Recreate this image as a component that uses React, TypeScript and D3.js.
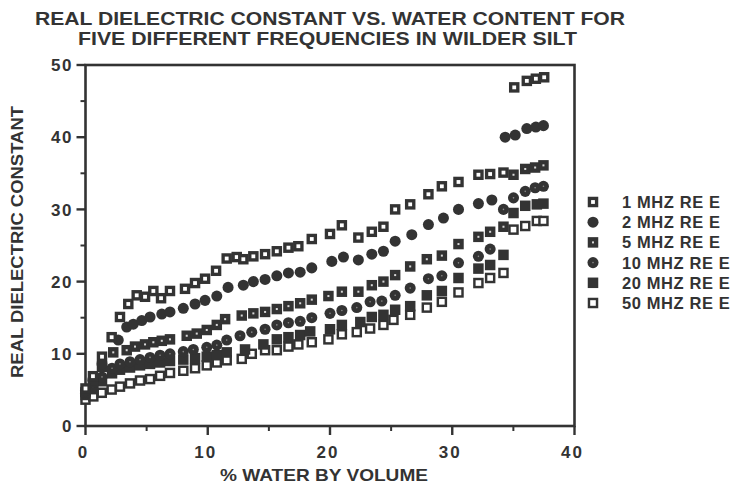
import React from "react";
import * as d3 from "d3";

// Real dielectric constant of Wilder silt vs. volumetric water content,
// measured at several frequencies. Each entry is [% water by volume, real ε].

const TITLE_LINES = [
  "REAL DIELECTRIC CONSTANT VS. WATER CONTENT FOR",
  "FIVE DIFFERENT FREQUENCIES IN WILDER SILT",
];
const X_TITLE = "% WATER BY VOLUME";
const Y_TITLE = "REAL DIELECTRIC CONSTANT";

const X_TICKS = [0, 10, 20, 30, 40];
const X_MINOR = [5, 15, 25, 35];
const Y_TICKS = [0, 10, 20, 30, 40, 50];
const Y_MINOR = [5, 15, 25, 35, 45];

const SERIES_LABELS = [
  "1 MHZ RE E",
  "2 MHZ RE E",
  "5 MHZ RE E",
  "10 MHZ RE E",
  "20 MHZ RE E",
  "50 MHZ RE E",
];

const MHZ_1: [number, number][] = [
  [0.0, 5.2], [0.61, 6.9], [1.35, 9.6], [2.14, 12.3], [2.82, 15.1], [3.5, 16.9],
  [4.19, 18.1], [4.87, 17.9], [5.55, 18.7], [6.18, 17.7], [6.91, 18.7], [8.14, 19.0],
  [8.96, 19.8], [9.78, 20.4], [10.68, 21.5], [11.55, 23.2], [12.37, 23.4], [12.91, 23.1],
  [13.73, 23.5], [14.69, 23.8], [15.65, 24.2], [16.6, 24.7], [17.41, 24.9], [18.51, 25.9],
  [20.0, 26.6], [20.97, 27.8], [22.32, 26.1], [23.42, 26.9], [24.37, 27.6], [25.33, 30.0],
  [26.56, 30.7], [28.05, 32.1], [29.15, 33.2], [30.51, 33.8], [32.14, 34.8], [33.1, 34.9],
  [34.19, 35.1], [35.07, 46.9], [36.1, 47.8], [36.84, 48.1], [37.52, 48.3],
];

const MHZ_2: [number, number][] = [
  [0.0, 4.9], [0.61, 6.3], [1.35, 8.6], [2.68, 11.9], [3.37, 13.7], [3.91, 14.1],
  [4.6, 14.6], [5.28, 15.1], [6.24, 15.5], [6.91, 15.8], [8.0, 16.3], [8.96, 16.9],
  [9.78, 17.4], [10.74, 18.0], [11.66, 19.2], [12.91, 19.5], [13.73, 20.0], [14.69, 20.3],
  [15.65, 20.8], [16.6, 21.2], [17.56, 21.3], [18.51, 21.9], [20.15, 22.8], [21.1, 23.4],
  [22.32, 23.0], [23.42, 23.8], [24.37, 24.2], [25.33, 25.6], [26.69, 26.5], [28.05, 27.9],
  [29.28, 28.8], [30.51, 30.0], [32.14, 30.8], [33.24, 31.3], [34.33, 40.0], [35.15, 40.3],
  [36.1, 41.2], [36.84, 41.4], [37.46, 41.6],
];

const MHZ_5: [number, number][] = [
  [0.0, 4.7], [0.61, 6.0], [1.35, 8.2], [2.27, 10.2], [3.37, 10.5], [4.05, 11.0],
  [4.87, 11.3], [5.55, 11.6], [6.24, 11.8], [6.91, 12.0], [8.28, 12.5], [9.1, 12.8],
  [9.92, 13.3], [10.74, 14.0], [11.42, 14.8], [12.78, 15.3], [13.73, 15.6], [14.69, 15.8],
  [15.65, 16.2], [16.6, 16.6], [17.56, 17.0], [18.51, 17.5], [19.87, 18.0], [20.97, 18.6],
  [22.32, 18.6], [23.42, 19.5], [24.37, 20.0], [25.33, 20.9], [26.56, 22.1], [27.92, 23.1],
  [29.15, 23.6], [30.51, 25.2], [32.14, 26.2], [33.1, 26.9], [34.19, 27.6], [35.01, 34.8],
  [35.97, 35.6], [36.78, 35.8], [37.46, 36.1],
];

const MHZ_10: [number, number][] = [
  [0.0, 4.5], [0.61, 5.4], [1.35, 6.8], [2.17, 8.0], [2.82, 8.6], [3.64, 8.9],
  [4.46, 9.2], [5.28, 9.5], [6.1, 9.8], [6.91, 10.0], [8.0, 10.3], [8.82, 10.6],
  [9.92, 10.9], [10.74, 11.2], [11.55, 11.9], [12.64, 12.5], [13.6, 13.0], [14.69, 13.4],
  [15.65, 14.0], [16.6, 14.3], [17.56, 14.5], [18.51, 15.0], [20.0, 15.6], [20.97, 16.0],
  [22.19, 16.4], [23.28, 17.2], [24.24, 17.3], [25.33, 18.1], [26.56, 19.1], [28.05, 20.4],
  [29.15, 20.8], [30.51, 22.6], [32.14, 23.5], [33.1, 24.5], [34.19, 30.0], [35.01, 31.6],
  [35.97, 32.5], [36.78, 33.0], [37.46, 33.2],
];

const MHZ_20: [number, number][] = [
  [0.0, 4.3], [0.61, 5.1], [1.35, 6.2], [2.17, 7.3], [2.82, 7.8], [3.64, 8.1],
  [4.46, 8.4], [5.28, 8.6], [6.1, 8.8], [6.91, 9.0], [8.0, 9.2], [8.96, 9.4],
  [9.92, 9.6], [10.74, 9.8], [11.55, 10.2], [13.05, 10.6], [14.55, 11.3], [15.65, 12.0],
  [16.6, 12.3], [17.56, 12.6], [18.38, 13.1], [20.0, 13.4], [20.97, 14.0], [22.48, 14.4],
  [23.42, 15.1], [24.37, 15.4], [25.33, 16.1], [26.56, 16.6], [27.92, 18.1], [29.15, 18.7],
  [30.51, 20.5], [32.14, 21.8], [33.1, 22.3], [34.19, 23.7], [35.01, 29.5], [35.97, 30.5],
  [36.92, 30.7], [37.46, 30.8],
];

const MHZ_50: [number, number][] = [
  [0.0, 3.65], [0.64, 4.1], [1.33, 4.6], [2.14, 5.05], [2.82, 5.45], [3.64, 5.9],
  [4.46, 6.3], [5.28, 6.5], [6.1, 6.95], [6.91, 7.35], [8.0, 7.65], [8.96, 8.0],
  [9.92, 8.4], [10.74, 8.8], [11.55, 9.1], [12.78, 9.3], [13.6, 10.0], [14.69, 10.5],
  [15.65, 10.5], [16.6, 11.0], [17.41, 11.3], [18.51, 11.6], [19.87, 12.0], [20.97, 12.7],
  [22.19, 13.0], [23.28, 13.5], [24.37, 14.0], [25.19, 14.7], [26.56, 15.4], [27.92, 16.4],
  [29.15, 17.2], [30.51, 18.5], [32.14, 19.8], [33.1, 20.5], [34.19, 21.2], [35.01, 27.2],
  [35.97, 27.7], [36.92, 28.4], [37.46, 28.4],
];

type MarkerKind = "pipSquare" | "disc" | "dotSquare" | "ringDisc" | "solidSquare" | "hollowSquare";

const SERIES: { label: string; data: [number, number][]; kind: MarkerKind }[] = [
  { label: SERIES_LABELS[0], data: MHZ_1, kind: "pipSquare" },
  { label: SERIES_LABELS[1], data: MHZ_2, kind: "disc" },
  { label: SERIES_LABELS[2], data: MHZ_5, kind: "dotSquare" },
  { label: SERIES_LABELS[3], data: MHZ_10, kind: "ringDisc" },
  { label: SERIES_LABELS[4], data: MHZ_20, kind: "solidSquare" },
  { label: SERIES_LABELS[5], data: MHZ_50, kind: "hollowSquare" },
];

const WIDTH = 743;
const HEIGHT = 485;
const INK = "#333333";
const FONT = "'Liberation Sans', Arial, Helvetica, sans-serif";

const plot = { left: 85.5, right: 574.5, top: 65, bottom: 426 };

const x = d3.scaleLinear().domain([0, 40]).range([plot.left, plot.right]);
const y = d3.scaleLinear().domain([0, 50]).range([plot.bottom, plot.top]);

const SQ = 10.5;
const discPath = d3.symbol(d3.symbolCircle, 96)() as string;

function Marker({ kind, cx, cy }: { kind: MarkerKind; cx: number; cy: number }) {
  const h = SQ / 2;
  switch (kind) {
    case "pipSquare":
      return (
        <g>
          <rect x={cx - h} y={cy - h} width={SQ} height={SQ} fill={INK} />
          <rect x={cx - 1.9} y={cy - 1.9} width={3.8} height={3.8} fill="#fff" />
        </g>
      );
    case "dotSquare":
      return (
        <g>
          <rect x={cx - h} y={cy - h} width={SQ} height={SQ} fill={INK} />
          <rect x={cx - 1} y={cy - 1} width={2} height={2} fill="#d8d8d8" />
        </g>
      );
    case "solidSquare":
      return <rect x={cx - h} y={cy - h} width={SQ} height={SQ} fill={INK} />;
    case "hollowSquare":
      return (
        <g>
          <rect x={cx - h} y={cy - h} width={SQ} height={SQ} fill={INK} />
          <rect x={cx - 2.8} y={cy - 2.8} width={5.6} height={5.6} fill="#fff" />
        </g>
      );
    case "disc":
      return <path d={discPath} transform={`translate(${cx},${cy})`} fill={INK} />;
    case "ringDisc":
      return (
        <g transform={`translate(${cx},${cy})`}>
          <path d={discPath} fill={INK} />
          <circle r={0.8} fill="#8a8a8a" />
        </g>
      );
  }
}

export default function App() {
  const legendX = 593;
  const legendY0 = 202;
  const legendStep = 20.2;

  return (
    <svg
      width={WIDTH}
      height={HEIGHT}
      viewBox={`0 0 ${WIDTH} ${HEIGHT}`}
      style={{ position: "absolute", left: 0, top: 0, background: "#fff" }}
      fontFamily={FONT}
      fontWeight="bold"
      fill={INK}
    >
      <rect width={WIDTH} height={HEIGHT} fill="#fff" />

      {/* title */}
      <text x={35} y={25} fontSize={18.5} textLength={590} lengthAdjust="spacingAndGlyphs">
        {TITLE_LINES[0]}
      </text>
      <text x={78} y={45} fontSize={18.5} textLength={499} lengthAdjust="spacingAndGlyphs">
        {TITLE_LINES[1]}
      </text>

      {/* frame */}
      <rect
        x={plot.left}
        y={plot.top}
        width={plot.right - plot.left}
        height={plot.bottom - plot.top}
        fill="none"
        stroke={INK}
        strokeWidth={2.6}
      />

      {/* y axis ticks and labels */}
      {Y_TICKS.map((t) => (
        <g key={`yt${t}`}>
          <line x1={plot.left - 9} x2={plot.left} y1={y(t)} y2={y(t)} stroke={INK} strokeWidth={2.4} />
          <text x={73} y={y(t)} dy="0.36em" textAnchor="end" fontSize={17} letterSpacing={1.5}>
            {t}
          </text>
        </g>
      ))}
      {Y_MINOR.map((t) => (
        <line key={`ym${t}`} x1={plot.left - 5} x2={plot.left} y1={y(t)} y2={y(t)} stroke={INK} strokeWidth={2} />
      ))}

      {/* x axis ticks and labels */}
      {X_TICKS.map((t) => (
        <g key={`xt${t}`}>
          <line x1={x(t)} x2={x(t)} y1={plot.bottom} y2={plot.bottom + 9} stroke={INK} strokeWidth={2.4} />
          <text x={x(t) - 2} y={458} textAnchor="middle" fontSize={17} letterSpacing={2}>
            {t}
          </text>
        </g>
      ))}
      {X_MINOR.map((t) => (
        <line key={`xm${t}`} x1={x(t)} x2={x(t)} y1={plot.bottom} y2={plot.bottom + 5} stroke={INK} strokeWidth={2} />
      ))}

      {/* axis titles */}
      <text x={220} y={481} fontSize={17} textLength={208} lengthAdjust="spacingAndGlyphs">
        {X_TITLE}
      </text>
      <text
        transform={`translate(23, 378) rotate(-90)`}
        fontSize={16}
        textLength={272}
        lengthAdjust="spacingAndGlyphs"
      >
        {Y_TITLE}
      </text>

      {/* points; the lowest frequency is drawn last so the upper rows sit on top */}
      {[...SERIES].reverse().map((s) => (
        <g key={s.label}>
          {s.data.map(([w, v], i) => (
            <Marker key={i} kind={s.kind} cx={x(w)} cy={y(v)} />
          ))}
        </g>
      ))}

      {/* legend */}
      {SERIES.map((s, i) => {
        const cy = legendY0 + i * legendStep;
        return (
          <g key={`lg${s.label}`}>
            <Marker kind={s.kind} cx={legendX} cy={cy} />
            <text x={622} y={cy} dy="0.36em" fontSize={16.5} letterSpacing={0.6}>
              {s.label}
            </text>
          </g>
        );
      })}
    </svg>
  );
}
